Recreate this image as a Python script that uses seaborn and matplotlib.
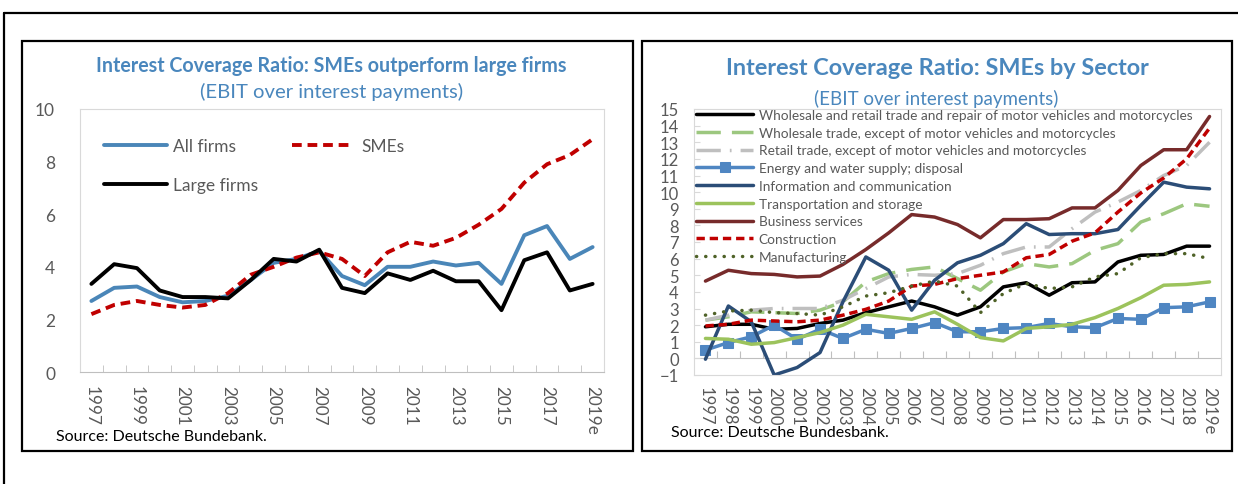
import matplotlib
matplotlib.use("Agg")
import matplotlib.pyplot as plt
from matplotlib.patches import Rectangle
from matplotlib.lines import Line2D
import seaborn as sns
import numpy as np

# ---- data ----
years = ["1997", "1998", "1999", "2000", "2001", "2002", "2003", "2004", "2005",
         "2006", "2007", "2008", "2009", "2010", "2011", "2012", "2013", "2014",
         "2015", "2016", "2017", "2018", "2019e"]

all_firms = [2.7, 3.2, 3.25, 2.85, 2.65, 2.7, 2.9, 3.5, 4.15, 4.3, 4.6, 3.65,
             3.3, 4.0, 4.0, 4.2, 4.05, 4.15, 3.35, 5.2, 5.55, 4.3, 4.75]
smes = [2.2, 2.55, 2.7, 2.55, 2.45, 2.55, 3.0, 3.7, 4.0, 4.35, 4.55, 4.3,
        3.65, 4.55, 4.95, 4.8, 5.1, 5.6, 6.2, 7.2, 7.9, 8.25, 8.85]
large_firms = [3.35, 4.1, 3.95, 3.1, 2.85, 2.85, 2.8, 3.5, 4.3, 4.2, 4.65, 3.2,
               3.0, 3.75, 3.5, 3.85, 3.45, 3.45, 2.35, 4.25, 4.55, 3.1, 3.35]

wholesale_retail = [1.9, 2.05, 2.05, 1.75, 1.8, 2.1, 2.3, 2.75, 3.1, 3.45, 3.1, 2.6,
                    3.1, 4.3, 4.55, 3.8, 4.55, 4.6, 5.8, 6.2, 6.25, 6.75, 6.75]
wholesale = [2.3, 2.5, 2.8, 2.75, 2.7, 2.9, 3.4, 4.6, 5.1, 5.35, 5.5, 4.8,
             4.1, 5.2, 5.7, 5.5, 5.7, 6.5, 6.9, 8.2, 8.7, 9.3, 9.15]
retail = [2.3, 2.6, 2.9, 3.0, 3.0, 3.0, 3.5, 4.2, 4.9, 5.05, 5.0, 5.1,
          5.6, 6.3, 6.7, 6.7, 7.8, 8.8, 9.4, 10.1, 11.0, 11.6, 13.0]
energy = [0.5, 0.95, 1.3, 2.0, 1.15, 1.75, 1.2, 1.75, 1.5, 1.8, 2.15, 1.6,
          1.6, 1.8, 1.85, 2.1, 1.9, 1.85, 2.4, 2.35, 3.05, 3.1, 3.4]
information = [-0.05, 3.15, 2.2, -1.0, -0.55, 0.35, 3.4, 6.1, 5.3, 2.9, 4.7, 5.75,
               6.2, 6.9, 8.1, 7.45, 7.5, 7.5, 7.75, 9.2, 10.6, 10.3, 10.2]
transport = [1.2, 1.15, 0.85, 0.95, 1.25, 1.55, 2.0, 2.65, 2.5, 2.35, 2.8, 2.05,
             1.25, 1.05, 1.8, 1.9, 2.05, 2.45, 3.0, 3.65, 4.4, 4.45, 4.6]
business = [4.65, 5.3, 5.1, 5.05, 4.9, 4.95, 5.65, 6.55, 7.55, 8.65, 8.5, 8.05,
            7.25, 8.35, 8.35, 8.4, 9.05, 9.05, 10.1, 11.6, 12.55, 12.55, 14.55]
construction = [1.95, 2.05, 2.3, 2.25, 2.2, 2.3, 2.6, 2.95, 3.45, 4.35, 4.45, 4.8,
                5.0, 5.2, 6.05, 6.25, 7.05, 7.55, 8.8, 9.95, 10.85, 12.0, 13.85]
manufacturing = [2.6, 2.85, 2.9, 2.75, 2.7, 2.6, 3.1, 3.75, 3.95, 4.35, 4.65, 4.35,
                 2.75, 3.9, 4.5, 4.2, 4.3, 4.9, 5.1, 6.05, 6.3, 6.3, 6.0]

W, H = 1238, 485
BLUE_TITLE = "#4a87bd"
GREY_TXT = "#595959"

sns.set_style("white")
plt.rcParams["font.family"] = ["Lato", "DejaVu Sans"]

fig = plt.figure(figsize=(W / 100, H / 100), dpi=100)


def fx(px):
    return px / W


def fy(py):
    return 1 - py / H


# outer frame and panel boxes
fig.add_artist(Line2D([fx(4), 1], [fy(14), fy(14)], color="black", lw=1.6))
fig.add_artist(Line2D([fx(4), fx(4)], [fy(14), 0], color="black", lw=1.6))
for x0, x1 in [(22, 633), (642, 1232)]:
    fig.add_artist(Rectangle((fx(x0), fy(452)), fx(x1 - x0), (452 - 42) / H,
                             fill=False, ec="black", lw=1.6))

x = np.arange(len(years))

# ---------------- left panel ----------------
ax1 = fig.add_axes([fx(80), fy(373), fx(524), 263 / H])
sns.lineplot(x=x, y=all_firms, ax=ax1, color="#4a86b8", lw=2.8, label="All firms")
sns.lineplot(x=x, y=smes, ax=ax1, color="#c00000", lw=2.8,
             linestyle=(0, (2.5, 1.5)), label="SMEs")
sns.lineplot(x=x, y=large_firms, ax=ax1, color="black", lw=2.8, label="Large firms")

ax1.set_xlim(-0.5, len(years) - 0.5)
ax1.set_ylim(0, 10)
ax1.set_yticks(range(0, 11, 2))
ax1.set_xticks(x[::2])
ax1.set_xticklabels(years[::2], rotation=-90, va="top", ha="center")
ax1.set_xticks(x[:-1] + 0.5, minor=True)
ax1.tick_params(axis="x", which="major", length=0, pad=9, labelsize=12.3, labelcolor=GREY_TXT)
ax1.tick_params(axis="x", which="minor", direction="in", length=5, color="#bfbfbf", bottom=True)
ax1.tick_params(axis="y", length=0, pad=18, labelsize=12.5, labelcolor=GREY_TXT)
for s in ax1.spines.values():
    s.set_color("#d9d9d9")
ax1.spines["bottom"].set_color("#bfbfbf")
ax1.set_xlabel("")
# row order: All firms | SMEs, then Large firms
h, l = ax1.get_legend_handles_labels()
order = [0, 2, 1]
ax1.legend([h[i] for i in order], [l[i] for i in order], ncol=2, loc="upper left",
           bbox_to_anchor=(fx(104), fy(139)),
           bbox_transform=fig.transFigure, frameon=False, fontsize=12.5,
           handlelength=3.6, handletextpad=0.4, columnspacing=1.9,
           labelspacing=1.35, borderpad=0, borderaxespad=0, labelcolor=GREY_TXT)

fig.text(fx(331), fy(66), "Interest Coverage Ratio: SMEs outperform large firms",
         ha="center", va="center", color=BLUE_TITLE, fontsize=14.1, fontweight="bold")
fig.text(fx(332), fy(92), "(EBIT over interest payments)",
         ha="center", va="center", color=BLUE_TITLE, fontsize=14.6)
fig.text(fx(56), fy(437), "Source: Deutsche Bundebank.", ha="left", va="center",
         color="black", fontsize=11.5)

# ---------------- right panel ----------------
ax2 = fig.add_axes([fx(694), fy(376), fx(527), 266 / H])
sectors = [
    ("Wholesale and retail trade and repair of motor vehicles and motorcycles",
     wholesale_retail, dict(color="black", linestyle="-")),
    ("Wholesale trade, except of motor vehicles and motorcycles",
     wholesale, dict(color="#9cc77f", linestyle=(0, (7, 3.2)))),
    ("Retail trade, except of motor vehicles and motorcycles",
     retail, dict(color="#bfbfbf", linestyle=(0, (7, 2.6, 0.5, 2.6)))),
    ("Energy and water supply; disposal",
     energy, dict(color="#4f86c2", linestyle="-", marker="s", markersize=6.5,
                  markeredgecolor="#4f86c2")),
    ("Information and communication",
     information, dict(color="#2b4d77", linestyle="-")),
    ("Transportation and storage",
     transport, dict(color="#9cc35c", linestyle="-")),
    ("Business services",
     business, dict(color="#772b2b", linestyle="-")),
    ("Construction",
     construction, dict(color="#c00000", linestyle=(0, (2.4, 1.4)))),
    ("Manufacturing",
     manufacturing, dict(color="#4f6228", linestyle=(0, (0.05, 2.6)),
                         dash_capstyle="round")),
]
for name, vals, style in sectors:
    sns.lineplot(x=x, y=vals, ax=ax2, lw=2.5, label=name, **style)

ax2.set_xlim(-0.5, len(years) - 0.5)
ax2.set_ylim(-1, 15)
ax2.set_yticks(range(-1, 16))
ax2.set_xticks(x)
ax2.set_xticklabels(years, rotation=-90, va="top", ha="center")
ax2.tick_params(axis="x", length=0, pad=8, labelsize=12, labelcolor=GREY_TXT)
ax2.tick_params(axis="y", direction="in", length=4, color="#d9d9d9", pad=11,
                labelsize=12, labelcolor=GREY_TXT, left=True)
for s in ax2.spines.values():
    s.set_color("#d9d9d9")
# category axis crossing at zero with tick marks between categories
sec = ax2.secondary_xaxis(1 / 16)
sec.set_xticks(x[:-1] + 0.5)
sec.set_xticklabels([])
sec.tick_params(direction="in", length=5, color="#bfbfbf")
sec.spines["bottom"].set_color("#bfbfbf")
ax2.legend(loc="upper left", bbox_to_anchor=(fx(696), fy(110)),
           bbox_transform=fig.transFigure, frameon=False, fontsize=9.8,
           handlelength=4.2, handletextpad=0.4, labelspacing=0.42,
           borderpad=0, borderaxespad=0, labelcolor=GREY_TXT)

fig.text(fx(937), fy(69), "Interest Coverage Ratio: SMEs by Sector",
         ha="center", va="center", color=BLUE_TITLE, fontsize=16.9, fontweight="bold")
fig.text(fx(936), fy(99), "(EBIT over interest payments)",
         ha="center", va="center", color=BLUE_TITLE, fontsize=13.5)
fig.text(fx(671), fy(433), "Source: Deutsche Bundesbank.", ha="left", va="center",
         color="black", fontsize=11.5)

fig.savefig("out.png", dpi=100)
